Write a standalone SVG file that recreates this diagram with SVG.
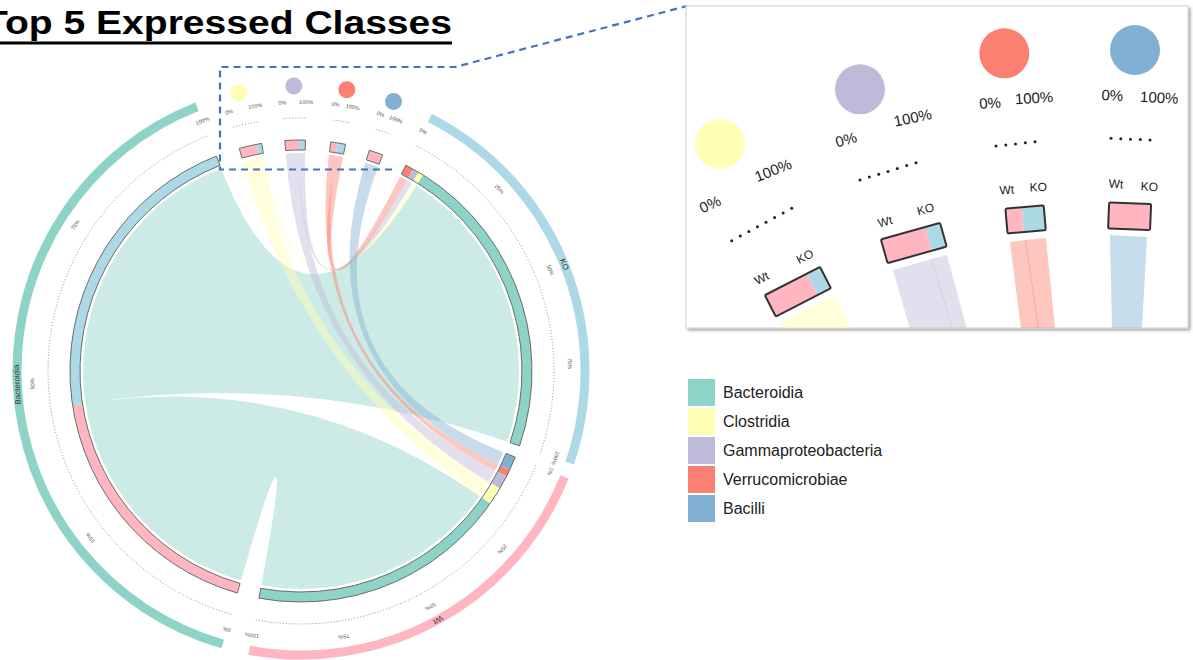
<svg xmlns="http://www.w3.org/2000/svg" width="1193" height="660" viewBox="0 0 1193 660">
<defs>
<style>
.lbl{font-family:"Liberation Sans",Arial,sans-serif;font-size:5.5px;fill:#555;text-anchor:middle}
.grp{font-family:"Liberation Sans",Arial,sans-serif;font-size:8px;fill:#333;text-anchor:middle;dominant-baseline:central}
.dot{fill:none;stroke:#8a8a8a;stroke-width:1;stroke-dasharray:1 2}
.out{fill:none;stroke:#6b6b6b;stroke-width:1}
.ch{fill-opacity:0.45}
.leg{font-family:"Liberation Sans",Arial,sans-serif;font-size:16px;fill:#222}
.ins{font-family:"Liberation Sans",Arial,sans-serif;fill:#222;text-anchor:middle;dominant-baseline:central}
.box{fill:none;stroke:#333;stroke-width:2}
.bact{fill:#8DD3C7}.clos{fill:#FFFFB3}.gam{fill:#BEBADA}.ver{fill:#FB8072}.bac{fill:#80B1D3}.ko{fill:#ADD8E6}.wt{fill:#FFB6C1}
.arc{fill:none;stroke-width:9}
</style>
<filter id="sh" x="-5%" y="-5%" width="110%" height="115%"><feDropShadow dx="2" dy="2" stdDeviation="1.5" flood-color="#000" flood-opacity="0.35"/></filter>
<clipPath id="pc"><rect x="686" y="6" width="502" height="322"/></clipPath>
</defs>
<rect width="1193" height="660" fill="#fff"/>

<!-- title -->
<g id="title">
<text x="-16" y="34" font-family="Liberation Sans, Arial, sans-serif" font-weight="bold" font-size="34" textLength="468" lengthAdjust="spacingAndGlyphs" fill="#000">Top 5 Expressed Classes</text>
<line x1="0" y1="43" x2="452" y2="43" stroke="#000" stroke-width="3"/>
</g>

<!-- connectors (chords) -->
<g id="connectors">
<path class="ch bact" d="M85.39,403.22 A218,218 0 0 1 221.10,168.17 Q301,371 416.20,185.92 A218,218 0 0 1 507.25,441.61 Q301,371 85.39,403.22 Z"/>
<path class="ch bact" d="M240.91,580.55 A218,218 0 0 1 85.39,403.22 Q301,371 479.57,496.04 A218,218 0 0 1 261.27,585.35 Q301,371 240.91,580.55 Z"/>
<path class="ch clos" d="M242.74,160.93 A218,218 0 0 1 259.03,157.08 Q301,371 488.64,481.97 A218,218 0 0 1 479.57,496.04 Q301,371 242.74,160.93 Z"/>
<path class="ch clos" d="M259.03,157.08 A218,218 0 0 1 263.89,156.18 Q301,371 411.97,183.36 A218,218 0 0 1 416.20,185.92 Q301,371 259.03,157.08 Z"/>
<path class="ch gam" d="M285.79,153.53 A218,218 0 0 1 299.10,153.01 Q301,371 495.07,470.31 A218,218 0 0 1 488.64,481.97 Q301,371 285.79,153.53 Z"/>
<path class="ch gam" d="M299.10,153.01 A218,218 0 0 1 305.19,153.04 Q301,371 406.69,180.33 A218,218 0 0 1 411.97,183.36 Q301,371 299.10,153.01 Z"/>
<path class="ch ver" d="M329.08,154.82 A218,218 0 0 1 335.48,155.74 Q301,371 497.93,464.51 A218,218 0 0 1 495.07,470.31 Q301,371 329.08,154.82 Z"/>
<path class="ch ver" d="M335.48,155.74 A218,218 0 0 1 342.97,157.08 Q301,371 399.97,176.76 A218,218 0 0 1 406.69,180.33 Q301,371 335.48,155.74 Z"/>
<path class="ch bac" d="M365.46,162.75 A218,218 0 0 1 378.06,167.07 Q301,371 503.27,452.31 A218,218 0 0 1 497.93,464.51 Q301,371 365.46,162.75 Z"/>
</g>

<!-- Bacteroidia -->
<g id="node-bacteroidia">
<path class="wt" d="M237.33,593.05 A231,231 0 0 1 72.54,405.14 L82.43,403.67 A221,221 0 0 0 240.08,583.44 Z"/>
<path class="ko" d="M72.54,405.14 A231,231 0 0 1 216.34,156.07 L220.00,165.38 A221,221 0 0 0 82.43,403.67 Z"/>
<path class="out" d="M237.33,593.05 A231,231 0 0 1 216.34,156.07 L220.00,165.38 A221,221 0 0 0 240.08,583.44 Z"/>
<path class="dot" d="M231.26,614.20 A253,253 0 0 1 208.28,135.60"/>
<path class="arc" stroke="#8DD3C7" d="M222.72,644.00 A284,284 0 0 1 196.91,106.76"/>
<text class="grp" x="301" y="87" transform="rotate(267.25 301 371)">Bacteroidia</text>
<text class="lbl" x="301" y="104" transform="rotate(196 301 371)">0%</text>
<text class="lbl" x="301" y="104" transform="rotate(231.6 301 371)">25%</text>
<text class="lbl" x="301" y="104" transform="rotate(267.25 301 371)">50%</text>
<text class="lbl" x="301" y="104" transform="rotate(302.9 301 371)">75%</text>
<text class="lbl" x="301" y="104" transform="rotate(338.5 301 371)">100%</text>
</g>

<!-- Clostridia -->
<g id="node-clostridia">
<path class="wt" d="M239.27,148.40 A231,231 0 0 1 256.53,144.32 L258.45,154.13 A221,221 0 0 0 241.94,158.04 Z"/>
<path class="ko" d="M256.53,144.32 A231,231 0 0 1 261.68,143.37 L263.38,153.22 A221,221 0 0 0 258.45,154.13 Z"/>
<path class="out" d="M239.27,148.40 A231,231 0 0 1 261.68,143.37 L263.38,153.22 A221,221 0 0 0 241.94,158.04 Z"/>
<path class="dot" d="M233.39,127.20 A253,253 0 0 1 257.94,121.69"/>
<circle class="clos" cx="238.59" cy="92.92" r="8.5"/>
<text class="lbl" x="301" y="104" transform="rotate(344.5 301 371)">0%</text>
<text class="lbl" x="301" y="104" transform="rotate(350.2 301 371)">100%</text>
</g>

<!-- Gammaproteobacteria -->
<g id="node-gammaproteobacteria">
<path class="wt" d="M284.89,140.56 A231,231 0 0 1 298.98,140.01 L299.07,150.01 A221,221 0 0 0 285.58,150.54 Z"/>
<path class="ko" d="M298.98,140.01 A231,231 0 0 1 305.44,140.04 L305.24,150.04 A221,221 0 0 0 299.07,150.01 Z"/>
<path class="out" d="M284.89,140.56 A231,231 0 0 1 305.44,140.04 L305.24,150.04 A221,221 0 0 0 285.58,150.54 Z"/>
<path class="dot" d="M283.35,118.62 A253,253 0 0 1 305.86,118.05"/>
<circle class="gam" cx="293.79" cy="86.09" r="8.5"/>
<text class="lbl" x="301" y="104" transform="rotate(356 301 371)">0%</text>
<text class="lbl" x="301" y="104" transform="rotate(1.1 301 371)">100%</text>
</g>

<!-- Verrucomicrobiae -->
<g id="node-verrucomicrobiae">
<path class="wt" d="M330.75,141.92 A231,231 0 0 1 337.53,142.91 L335.95,152.78 A221,221 0 0 0 329.46,151.84 Z"/>
<path class="ko" d="M337.53,142.91 A231,231 0 0 1 345.47,144.32 L343.55,154.13 A221,221 0 0 0 335.95,152.78 Z"/>
<path class="out" d="M330.75,141.92 A231,231 0 0 1 345.47,144.32 L343.55,154.13 A221,221 0 0 0 329.46,151.84 Z"/>
<path class="dot" d="M333.59,120.11 A253,253 0 0 1 349.71,122.73"/>
<circle class="ver" cx="346.81" cy="89.70" r="8.5"/>
<text class="lbl" x="301" y="104" transform="rotate(7.4 301 371)">0%</text>
<text class="lbl" x="301" y="104" transform="rotate(11.1 301 371)">100%</text>
</g>

<!-- Bacilli -->
<g id="node-bacilli">
<path class="wt" d="M369.31,150.33 A231,231 0 0 1 382.65,154.91 L379.12,164.27 A221,221 0 0 0 366.35,159.88 Z"/>
<path class="out" d="M369.31,150.33 A231,231 0 0 1 382.65,154.91 L379.12,164.27 A221,221 0 0 0 366.35,159.88 Z"/>
<path class="dot" d="M375.81,129.31 A253,253 0 0 1 390.43,134.33"/>
<circle class="bac" cx="393.54" cy="101.44" r="8.5"/>
<text class="lbl" x="301" y="104" transform="rotate(17.2 301 371)">0%</text>
<text class="lbl" x="301" y="104" transform="rotate(20.7 301 371)">100%</text>
</g>

<!-- KO -->
<g id="node-ko">
<path class="ver" d="M405.87,165.18 A231,231 0 0 1 412.99,168.96 L408.14,177.71 A221,221 0 0 0 401.33,174.09 Z"/>
<path class="gam" d="M412.99,168.96 A231,231 0 0 1 418.59,172.17 L413.50,180.78 A221,221 0 0 0 408.14,177.71 Z"/>
<path class="clos" d="M418.59,172.17 A231,231 0 0 1 423.07,174.89 L417.79,183.38 A221,221 0 0 0 413.50,180.78 Z"/>
<path class="bact" d="M423.07,174.89 A231,231 0 0 1 519.55,445.83 L510.09,442.59 A221,221 0 0 0 417.79,183.38 Z"/>
<path class="out" d="M405.87,165.18 A231,231 0 0 1 519.55,445.83 L510.09,442.59 A221,221 0 0 0 401.33,174.09 Z"/>
<path class="dot" d="M415.86,145.57 A253,253 0 0 1 540.36,452.95"/>
<path class="arc" stroke="#ADD8E6" d="M429.93,117.95 A284,284 0 0 1 569.69,462.99"/>
<text class="grp" x="301" y="87" transform="rotate(67.95 301 371)">KO</text>
<text class="lbl" x="301" y="104" transform="rotate(27 301 371)">0%</text>
<text class="lbl" x="301" y="104" transform="rotate(47.5 301 371)">25%</text>
<text class="lbl" x="301" y="104" transform="rotate(67.95 301 371)">50%</text>
<text class="lbl" x="301" y="104" transform="rotate(88.4 301 371)">75%</text>
<text class="lbl" x="301" y="104" transform="rotate(108.9 301 371)">100%</text>
</g>

<!-- Wt -->
<g id="node-wt">
<path class="bac" d="M515.33,457.16 A231,231 0 0 1 509.67,470.09 L500.64,465.80 A221,221 0 0 0 506.05,453.43 Z"/>
<path class="ver" d="M509.67,470.09 A231,231 0 0 1 506.64,476.23 L497.74,471.67 A221,221 0 0 0 500.64,465.80 Z"/>
<path class="gam" d="M506.64,476.23 A231,231 0 0 1 499.83,488.59 L491.22,483.50 A221,221 0 0 0 497.74,471.67 Z"/>
<path class="clos" d="M499.83,488.59 A231,231 0 0 1 490.22,503.50 L482.03,497.76 A221,221 0 0 0 491.22,483.50 Z"/>
<path class="bact" d="M490.22,503.50 A231,231 0 0 1 258.90,598.13 L260.72,588.30 A221,221 0 0 0 482.03,497.76 Z"/>
<path class="out" d="M515.33,457.16 A231,231 0 0 1 258.90,598.13 L260.72,588.30 A221,221 0 0 0 506.05,453.43 Z"/>
<path class="dot" d="M535.74,465.37 A253,253 0 0 1 254.89,619.76"/>
<path class="arc" stroke="#FFB6C1" d="M564.51,476.93 A284,284 0 0 1 249.24,650.24"/>
<text class="grp" x="301" y="87" transform="rotate(151.2 301 371)">Wt</text>
<text class="lbl" x="301" y="104" transform="rotate(111.9 301 371)">0%</text>
<text class="lbl" x="301" y="104" transform="rotate(131.55 301 371)">25%</text>
<text class="lbl" x="301" y="104" transform="rotate(151.2 301 371)">50%</text>
<text class="lbl" x="301" y="104" transform="rotate(170.85 301 371)">75%</text>
<text class="lbl" x="301" y="104" transform="rotate(190.5 301 371)">100%</text>
</g>

<!-- zoom frame -->
<g id="zoom-frame">
<path d="M392,169.5 L220,169.5 L220,67 L455,67 L687,6" fill="none" stroke="#4472C4" stroke-width="2.2" stroke-dasharray="7 5"/>
</g>

<!-- inset -->
<g id="inset">
<rect x="686" y="6" width="502" height="322" fill="#fff" stroke="#d0d0d0" stroke-width="1" filter="url(#sh)"/>
<g clip-path="url(#pc)">
<polygon points="781,322 834,296 851,329 783,329" fill="#FFFFB3" fill-opacity="0.5"/>
<polygon points="893,270 932,259 953,329 910,329" fill="#BEBADA" fill-opacity="0.45"/>
<polygon points="931,259 947,255 967,329 952,329" fill="#BEBADA" fill-opacity="0.45"/>
<polygon points="1010,242 1026,240 1039,329 1021,329" fill="#FB8072" fill-opacity="0.45"/>
<polygon points="1025,240 1046,238 1055,329 1038,329" fill="#FB8072" fill-opacity="0.45"/>
<polygon points="1110,235 1147,237 1142,329 1112,329" fill="#80B1D3" fill-opacity="0.45"/>
</g>
<circle cx="720" cy="144" r="25" fill="#FFFFB3"/>
<circle cx="860" cy="89.3" r="25" fill="#BEBADA"/>
<circle cx="1004.3" cy="53.3" r="25" fill="#FB8072"/>
<circle cx="1135" cy="50" r="25" fill="#80B1D3"/>
<g font-size="15">
<text class="ins" x="710" y="204" transform="rotate(-24 710 204)">0%</text>
<text class="ins" x="773" y="170" transform="rotate(-22 773 170)">100%</text>
<text class="ins" x="846" y="139.3" transform="rotate(-15 846 139.3)">0%</text>
<text class="ins" x="912.7" y="117.3" transform="rotate(-12 912.7 117.3)">100%</text>
<text class="ins" x="990" y="102.7" transform="rotate(-5 990 102.7)">0%</text>
<text class="ins" x="1034" y="97.7" transform="rotate(-3 1034 97.7)">100%</text>
<text class="ins" x="1112.3" y="95" transform="rotate(3 1112.3 95)">0%</text>
<text class="ins" x="1159.3" y="97.3" transform="rotate(3 1159.3 97.3)">100%</text>
</g>
<g fill="#222">
<circle cx="731.7" cy="240.7" r="1.5"/><circle cx="740.3" cy="236.1" r="1.5"/><circle cx="748.8" cy="231.4" r="1.5"/><circle cx="757.4" cy="226.8" r="1.5"/><circle cx="766" cy="222.2" r="1.5"/><circle cx="774.6" cy="217.6" r="1.5"/><circle cx="783.1" cy="212.9" r="1.5"/><circle cx="791.7" cy="208.3" r="1.5"/>
<circle cx="860" cy="180" r="1.5"/><circle cx="869.3" cy="177.1" r="1.5"/><circle cx="878.7" cy="174.2" r="1.5"/><circle cx="888" cy="171.4" r="1.5"/><circle cx="897.3" cy="168.5" r="1.5"/><circle cx="906.7" cy="165.6" r="1.5"/><circle cx="916" cy="162.7" r="1.5"/>
<circle cx="996" cy="146" r="1.5"/><circle cx="1005.8" cy="144.9" r="1.5"/><circle cx="1015.5" cy="143.9" r="1.5"/><circle cx="1025.3" cy="142.8" r="1.5"/><circle cx="1035" cy="141.7" r="1.5"/>
<circle cx="1111" cy="138.3" r="1.5"/><circle cx="1120.8" cy="138.7" r="1.5"/><circle cx="1130.5" cy="139.2" r="1.5"/><circle cx="1140.3" cy="139.6" r="1.5"/><circle cx="1150" cy="140" r="1.5"/>
</g>
<g transform="translate(797.9,291.7) rotate(-27.2)">
<rect x="-31" y="-12" width="47" height="24" class="wt"/><rect x="16" y="-12" width="15" height="24" class="ko"/><rect x="-31" y="-12" width="62" height="24" class="box" rx="1.5"/>
</g>
<g transform="translate(913.8,243) rotate(-15.7)">
<rect x="-30.7" y="-12.3" width="46" height="24.6" class="wt"/><rect x="15.3" y="-12.3" width="15.4" height="24.6" class="ko"/><rect x="-30.7" y="-12.3" width="61.4" height="24.6" class="box" rx="1.5"/>
</g>
<g transform="translate(1025.6,219.4) rotate(-4.9)">
<rect x="-19.2" y="-12.5" width="16.5" height="25" class="wt"/><rect x="-2.7" y="-12.5" width="21.9" height="25" class="ko"/><rect x="-19.2" y="-12.5" width="38.4" height="25" class="box" rx="1.5"/>
</g>
<g transform="translate(1129.6,216.2) rotate(2.3)">
<rect x="-21" y="-13" width="42" height="26" class="wt"/><rect x="-21" y="-13" width="42" height="26" class="box" rx="1.5"/>
</g>
<g font-size="12">
<text class="ins" x="761.7" y="278.3" transform="rotate(-27 761.7 278.3)">Wt</text>
<text class="ins" x="805" y="256.7" transform="rotate(-27 805 256.7)">KO</text>
<text class="ins" x="885" y="221.7" transform="rotate(-15 885 221.7)">Wt</text>
<text class="ins" x="925.7" y="209.3" transform="rotate(-15 925.7 209.3)">KO</text>
<text class="ins" x="1006.7" y="190" transform="rotate(-4 1006.7 190)">Wt</text>
<text class="ins" x="1038.3" y="187.3" transform="rotate(-2 1038.3 187.3)">KO</text>
<text class="ins" x="1116" y="184" transform="rotate(3 1116 184)">Wt</text>
<text class="ins" x="1149.3" y="186.7" transform="rotate(3 1149.3 186.7)">KO</text>
</g>
</g>

<!-- legend -->
<g id="legend">
<rect x="688" y="379" width="27" height="27" class="bact"/>
<rect x="688" y="408" width="27" height="27" class="clos"/>
<rect x="688" y="437" width="27" height="27" class="gam"/>
<rect x="688" y="466" width="27" height="27" class="ver"/>
<rect x="688" y="495" width="27" height="27" class="bac"/>
<text class="leg" x="723" y="398">Bacteroidia</text>
<text class="leg" x="723" y="427">Clostridia</text>
<text class="leg" x="723" y="456">Gammaproteobacteria</text>
<text class="leg" x="723" y="485">Verrucomicrobiae</text>
<text class="leg" x="723" y="514">Bacilli</text>
</g>
</svg>
